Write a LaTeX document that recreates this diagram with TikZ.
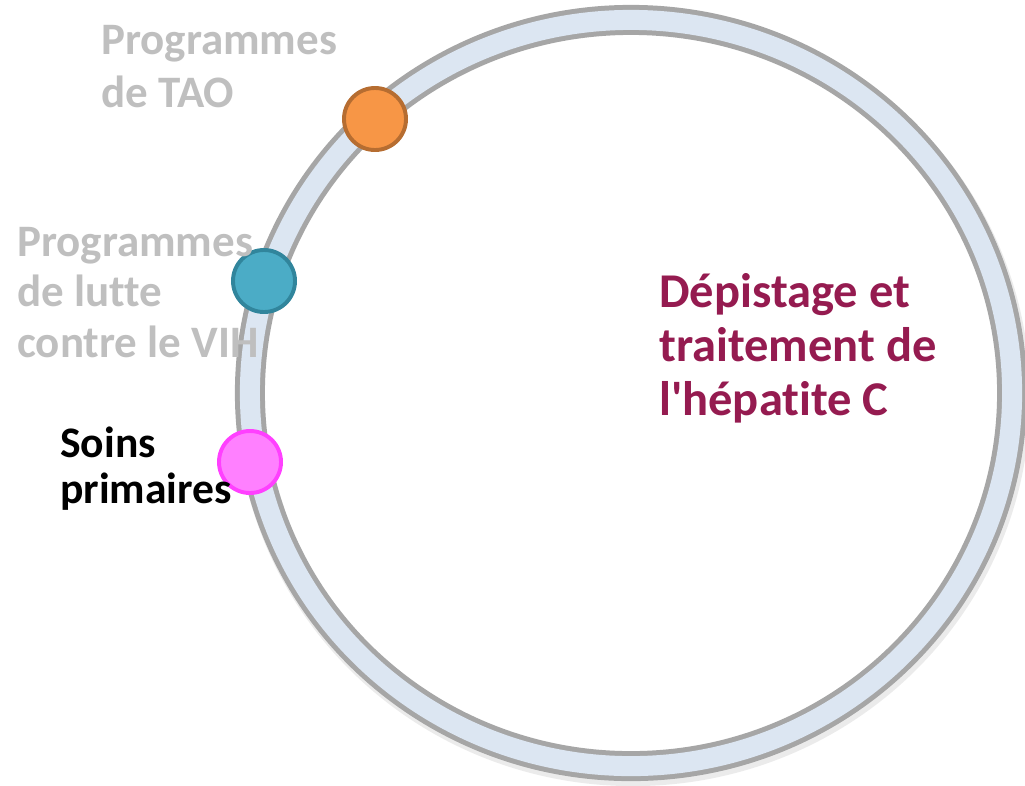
\documentclass[tikz,border=0pt]{standalone}
\usepackage{fontspec}
\setmainfont{Carlito}[Ligatures={NoCommon}]
\definecolor{ringgray}{HTML}{A6A6A6}
\definecolor{ringblue}{HTML}{DCE6F2}
\definecolor{labgray}{HTML}{BFBFBF}
\definecolor{hepred}{HTML}{951B50}

\begin{document}
\begin{tikzpicture}[x=0.025cm,y=-0.025cm]
 \tikzstyle{point}=[circle,draw,line width=2.8pt,minimum size=1.55cm,inner sep=0pt]
 \tikzstyle{lab}=[anchor=base west,inner sep=0pt,align=left]
 \useasboundingbox (0,0) rectangle (1025,785);
 % ring with soft shadow
 \draw[line width=0.8cm,black,opacity=0.08] (633,397) ellipse [x radius=9.525cm,y radius=9.325cm];
 \draw[line width=0.75cm,ringgray,fill=white] (631,393) ellipse [x radius=9.525cm,y radius=9.325cm];
 \draw[line width=0.5cm,ringblue] (631,393) ellipse [x radius=9.525cm,y radius=9.325cm];
 % points on the ring
 \node[point,fill={rgb,255:red,247;green,150;blue,70},draw={rgb,255:red,182;green,109;blue,49}] (tao) at (375,119) {};
 \node[point,fill={rgb,255:red,75;green,172;blue,198},draw={rgb,255:red,49;green,133;blue,156}] (vih) at (264,281) {};
 \node[point,fill={rgb,255:red,255;green,128;blue,255},draw={rgb,255:red,255;green,64;blue,255}] (soins) at (250,462) {};
 % labels (anchored at the baseline of the last line)
 \node[lab,text=labgray,font=\fontsize{32}{37}\selectfont\bfseries] (taolab) at (101,107) {Programmes\\de TAO};
 \node[lab,text=labgray,font=\fontsize{32}{35.6}\selectfont\bfseries] (vihlab) at (17,357) {Programmes\\de lutte\\contre le VIH};
 \node[lab,text=black,font=\fontsize{31}{32.5}\selectfont\bfseries] (soinslab) at (60,503) {Soins\\primaires};
 \node[lab,text=hepred,font=\fontsize{34.5}{38.4}\selectfont\bfseries] (hep) at (659,415) {Dépistage et\\traitement de\\l\textquotesingle hépatite C};
\end{tikzpicture}
\end{document}
